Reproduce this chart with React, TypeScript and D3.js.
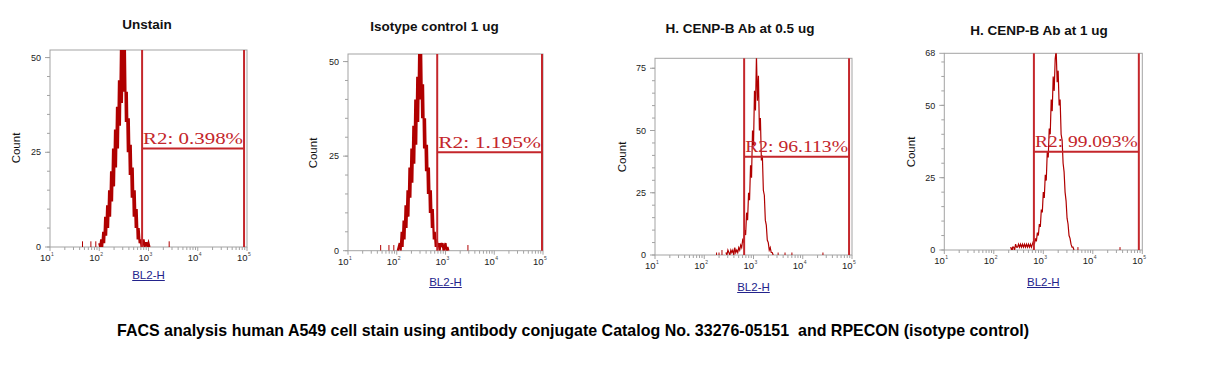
import { useEffect, useRef } from "react";
import * as d3 from "d3";

const WIDTH = 1217;
const HEIGHT = 365;

// ---- data ----
const titles = [
  "Unstain",
  "Isotype control 1 ug",
  "H. CENP-B Ab at 0.5 ug",
  "H. CENP-B Ab at 1 ug",
];
const gateLabels = ["R2: 0.398%", "R2: 1.195%", "R2: 96.113%", "R2: 99.093%"];
const yMax = [52, 52, 79, 68];
const yTickLabels = [
  [0, 25, 50],
  [0, 25, 50],
  [0, 25, 50, 75],
  [0, 25, 50, 68],
];
const xExponents = [1, 2, 3, 4, 5];
// gate edges in log10(BL2-H)
const gateLeft = [2.87, 2.83, 2.81, 2.81];
const gateRight = [4.94, 4.98, 4.94, 4.93];

// histogram channels: first bin (log10) and a fixed bin width in decades
const binStep = 0.02;
const histStart = [2.0, 2.02, 2.44, 2.34];

const unstainCounts = [
  1, 0, 2, 0, 4, 1, 8, 3, 11, 5, 15, 8, 20, 12, 26, 16, 31, 21, 37, 26, 44, 32,
  52, 38, 54, 41, 54, 33, 41, 25, 34, 19, 27, 13, 21, 8, 15, 5, 10, 2, 5, 1, 2,
  0, 1, 2, 0, 1, 1, 0, 1, 0,
];
const isotypeCounts = [
  0, 1, 2, 0, 5, 1, 8, 3, 12, 6, 16, 9, 22, 14, 27, 18, 33, 23, 40, 28, 46, 34,
  54, 40, 54, 35, 44, 27, 35, 21, 28, 15, 22, 10, 16, 6, 11, 3, 5, 1, 3, 1, 2, 0,
  2, 1, 2, 0, 1, 2, 0, 1, 0,
];
const cenpHalfCounts = [
  1, 0, 2, 1, 0, 2, 1, 2, 0, 3, 1, 2, 1, 3, 2, 4, 3, 6, 5, 10, 8, 17, 14, 25, 22,
  36, 31, 50, 44, 66, 58, 80, 62, 72, 50, 55, 38, 40, 26, 24, 14, 12, 6, 5, 2, 3,
  1, 1, 0,
];
const cenpOneCounts = [
  1, 0, 1, 1, 0, 2, 1, 1, 2, 1, 2, 1, 2, 1, 2, 1, 2, 1, 2, 1, 2, 1, 2, 3, 2, 4, 3,
  6, 5, 9, 8, 14, 13, 20, 18, 26, 24, 34, 32, 42, 40, 52, 48, 60, 55, 66, 69, 58,
  62, 50, 52, 40, 38, 30, 27, 20, 17, 11, 9, 5, 4, 2, 1, 1, 0,
];
const histCounts = [unstainCounts, isotypeCounts, cenpHalfCounts, cenpOneCounts];

// isolated events outside the main peak: [log10, count]
const strayEvents: [number, number][][] = [
  [[1.66, 1.5], [1.83, 1.5], [1.93, 1.5], [3.42, 1.5]],
  [[1.67, 1.5], [1.84, 1.5], [1.94, 1.5], [3.46, 1.5]],
  [[2.25, 1], [2.3, 1], [2.36, 2], [3.5, 1], [3.64, 1], [3.78, 1], [4.41, 1]],
  [[2.38, 1], [3.7, 1], [4.55, 1]],
];

// ---- layout (pixels) ----
const panels = [
  { left: 50, top: 50, w: 197, h: 197, titleX: 147, titleY: 29, countX: 20, countY: 148, xlabY: 279 },
  { left: 348, top: 54, w: 195, h: 196.7, titleX: 434.5, titleY: 31, countX: 317, countY: 153, xlabY: 286 },
  { left: 655, top: 58.3, w: 197, h: 196.7, titleX: 740, titleY: 33, countX: 625.5, countY: 157, xlabY: 291 },
  { left: 944.3, top: 53.3, w: 198, h: 196.7, titleX: 1039, titleY: 35, countX: 915, countY: 152, xlabY: 286 },
];

const FRAME = "#a3a3a3";
const HIST = "#b00000";
const GATE = "#c4262b";

function App() {
  const ref = useRef<SVGSVGElement | null>(null);

  useEffect(() => {
    if (!ref.current) return;
    const svg = d3.select(ref.current);
    svg.selectAll("*").remove();

    svg.append("rect").attr("width", WIDTH).attr("height", HEIGHT).attr("fill", "#fff");

    panels.forEach((p, i) => {
      const x = d3.scaleLog().domain([10, 1e5]).range([p.left, p.left + p.w]);
      const y = d3.scaleLinear().domain([0, yMax[i]]).range([p.top + p.h, p.top]);
      const g = svg.append("g");
      const bottom = y(0);
      const top = y(yMax[i]);

      // title
      g.append("text")
        .attr("x", p.titleX)
        .attr("y", p.titleY)
        .attr("text-anchor", "middle")
        .style("font-family", "Arial, 'Liberation Sans', sans-serif")
        .style("font-weight", "bold")
        .style("font-size", "13.5px")
        .attr("fill", "#111")
        .text(titles[i]);

      // frame
      g.append("rect")
        .attr("x", x(10))
        .attr("y", top)
        .attr("width", x(1e5) - x(10))
        .attr("height", bottom - top)
        .attr("fill", "none")
        .attr("stroke", FRAME)
        .attr("stroke-width", 1);

      // y ticks (minor every 5)
      d3.range(0, yMax[i] + 0.1, 5).forEach((v) => {
        g.append("line")
          .attr("x1", x(10) - 3)
          .attr("x2", x(10))
          .attr("y1", y(v))
          .attr("y2", y(v))
          .attr("stroke", FRAME);
      });
      yTickLabels[i].forEach((v) => {
        g.append("line")
          .attr("x1", x(10) - 5)
          .attr("x2", x(10))
          .attr("y1", y(v))
          .attr("y2", y(v))
          .attr("stroke", FRAME);
        g.append("text")
          .attr("x", x(10) - 9)
          .attr("y", y(v))
          .attr("dy", "0.35em")
          .attr("text-anchor", "end")
          .style("font-family", "Arial, sans-serif")
          .style("font-size", "9px")
          .attr("fill", "#222")
          .text(v);
      });

      // x ticks, log minor ticks 2..9
      xExponents.forEach((e) => {
        const steps = e < 5 ? d3.range(1, 10) : [1];
        steps.forEach((m) => {
          const v = m * 10 ** e;
          g.append("line")
            .attr("x1", x(v))
            .attr("x2", x(v))
            .attr("y1", bottom)
            .attr("y2", bottom + (m === 1 ? 4 : 3))
            .attr("stroke", FRAME);
        });
        g.append("text")
          .attr("x", x(10 ** e) + 0.5)
          .attr("y", bottom + 14)
          .attr("text-anchor", "end")
          .style("font-family", "Arial, sans-serif")
          .style("font-size", "9.5px")
          .attr("fill", "#222")
          .text("10");
        g.append("text")
          .attr("x", x(10 ** e) + 1)
          .attr("y", bottom + 9)
          .style("font-family", "Arial, sans-serif")
          .style("font-size", "5px")
          .attr("fill", "#444")
          .text(e);
      });

      // axis titles
      g.append("text")
        .attr("transform", `translate(${p.countX},${p.countY}) rotate(-90)`)
        .attr("text-anchor", "middle")
        .style("font-family", "Arial, sans-serif")
        .style("font-size", "11.5px")
        .attr("fill", "#111")
        .text("Count");

      const cx = (x(10) + x(1e5)) / 2;
      const xl = g
        .append("text")
        .attr("x", cx)
        .attr("y", p.xlabY)
        .attr("text-anchor", "middle")
        .style("font-family", "Arial, sans-serif")
        .style("font-size", "11.5px")
        .attr("fill", "#23238c")
        .text("BL2-H");
      const tw = (xl.node() as SVGTextElement).getComputedTextLength();
      g.append("line")
        .attr("x1", cx - tw / 2)
        .attr("x2", cx + tw / 2)
        .attr("y1", p.xlabY + 1.5)
        .attr("y2", p.xlabY + 1.5)
        .attr("stroke", "#23238c");

      // histogram, clipped to the plot area
      const clipId = `clip-${i}`;
      svg
        .append("clipPath")
        .attr("id", clipId)
        .append("rect")
        .attr("x", x(10))
        .attr("y", top)
        .attr("width", x(1e5) - x(10))
        .attr("height", bottom - top);
      const hg = g.append("g").attr("clip-path", `url(#${clipId})`);

      const line = d3
        .line<number>()
        .x((_, j) => x(10 ** (histStart[i] + j * binStep)))
        .y((d) => y(d));
      hg.append("path")
        .attr("d", line(histCounts[i]))
        .attr("fill", "none")
        .attr("stroke", HIST)
        .attr("stroke-width", i < 2 ? 2.2 : 1.2)
        .attr("stroke-linejoin", "miter");

      strayEvents[i].forEach(([v, c]) => {
        hg.append("line")
          .attr("x1", x(10 ** v))
          .attr("x2", x(10 ** v))
          .attr("y1", bottom)
          .attr("y2", y(c))
          .attr("stroke", HIST)
          .attr("stroke-width", 1);
      });

      // gate R2
      const gl = x(10 ** gateLeft[i]);
      const gr = x(10 ** gateRight[i]);
      const gy = y(yMax[i] / 2);
      [gl, gr].forEach((gx) => {
        g.append("line")
          .attr("x1", gx)
          .attr("x2", gx)
          .attr("y1", top)
          .attr("y2", bottom)
          .attr("stroke", GATE)
          .attr("stroke-width", 2);
      });
      g.append("line")
        .attr("x1", gl)
        .attr("x2", gr)
        .attr("y1", gy)
        .attr("y2", gy)
        .attr("stroke", GATE)
        .attr("stroke-width", 2);
      g.append("text")
        .attr("x", gl + 1)
        .attr("y", gy - 4.5)
        .style("font-family", "'Liberation Serif', 'Times New Roman', serif")
        .style("font-size", "17px")
        .attr("fill", GATE)
        .attr("textLength", gr - gl - 2)
        .attr("lengthAdjust", "spacingAndGlyphs")
        .text(gateLabels[i]);
    });

    // caption
    svg
      .append("text")
      .attr("x", 117)
      .attr("y", 336)
      .style("font-family", "'Liberation Sans Narrow', 'Arial Narrow', Arial, sans-serif")
      .style("font-weight", "bold")
      .style("font-size", "16.5px")
      .style("white-space", "pre")
      .attr("fill", "#000")
      .attr("textLength", 912)
      .attr("lengthAdjust", "spacingAndGlyphs")
      .text(
        "FACS analysis human A549 cell stain using antibody conjugate Catalog No. 33276-05151  and RPECON (isotype control)"
      );
  }, []);

  return (
    <svg
      ref={ref}
      width={WIDTH}
      height={HEIGHT}
      style={{ position: "absolute", left: 0, top: 0, display: "block" }}
      role="img"
      aria-label="FACS histograms of BL2-H for four staining conditions"
    />
  );
}

export default App;
